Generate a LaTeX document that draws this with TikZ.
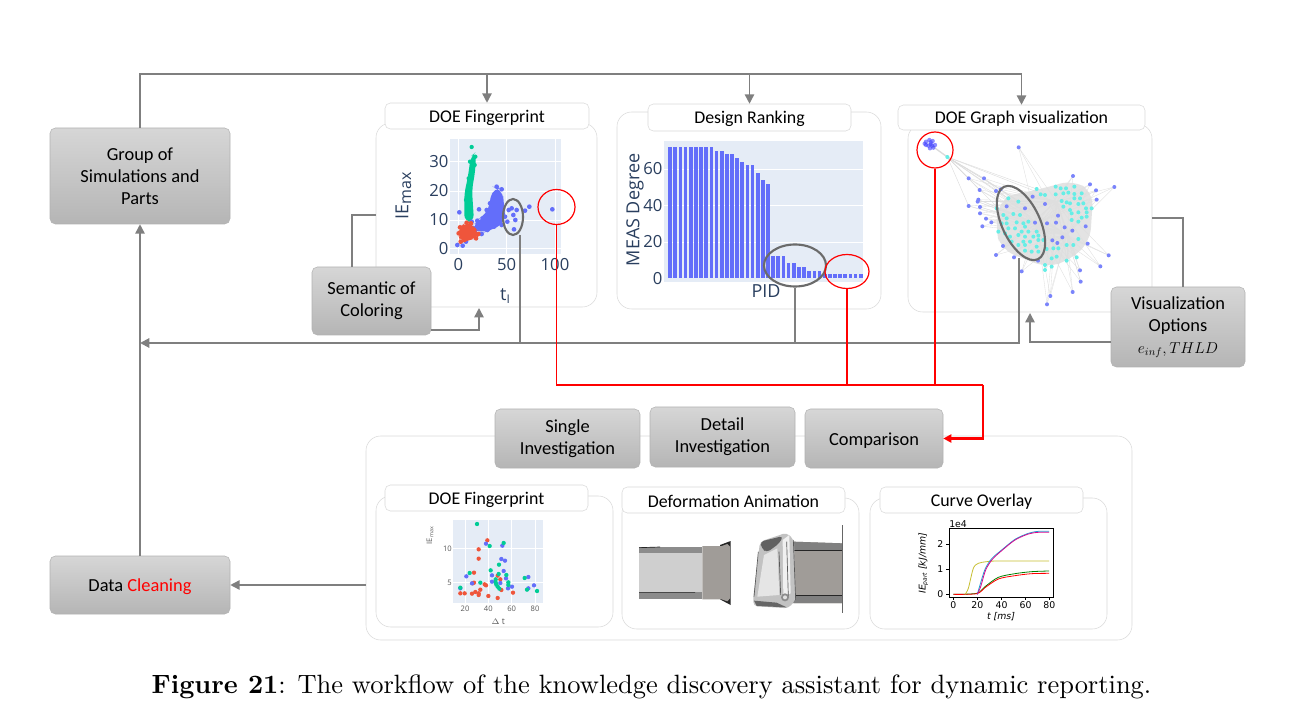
\documentclass[tikz,border=0pt]{standalone}
\usepackage{fontspec}
\usetikzlibrary{arrows.meta}
\usetikzlibrary{shapes.geometric}
\newfontfamily\boxfont{Carlito}
\newfontfamily\plotfont{Open Sans}
\newfontfamily\mplfont{DejaVu Sans}
\def\px{0.75pt}
\definecolor{plotbg}{HTML}{E5ECF6}
\definecolor{plotink}{HTML}{2A3F5F}
\definecolor{plotblue}{HTML}{636EFA}
\definecolor{plotred}{HTML}{EF553B}
\definecolor{plotgreen}{HTML}{00CC96}
\definecolor{graphcyan}{HTML}{66EEE6}
\definecolor{linegray}{HTML}{7F7F7F}
\definecolor{panelline}{HTML}{DADADA}
\tikzset{
  graybox/.style={draw=black!30, rounded corners=4pt, top color=black!16,
    bottom color=black!29, align=center, inner sep=0pt,
    font=\boxfont\fontsize{13.8}{16.5}\selectfont,
    execute at begin node={\rule{0pt}{12.5pt}}},
  grayboxtall/.style={graybox, execute at begin node={\rule{0pt}{15pt}}},
  panel/.style={draw=panelline, fill=white, rounded corners=11pt, inner sep=0pt},
  titlebox/.style={draw=panelline, fill=white, rounded corners=4pt, inner sep=0pt,
    font=\boxfont\fontsize{13.4}{15}\selectfont,
    execute at begin node={\rule{0pt}{11.5pt}}},
  grayline/.style={draw=linegray, line width=1.1pt},
  grayarrow/.style={grayline, -{Triangle[length=7pt,width=7pt]}},
  redline/.style={draw=red, line width=1.1pt},
  redarrow/.style={redline, line width=1.6pt, -{Triangle[length=6pt,width=6pt]}},
  grayring/.style={ellipse, draw=black!58, line width=1.6pt, inner sep=0pt},
  redring/.style={ellipse, draw=red, line width=0.9pt, inner sep=0pt},
  ticktext/.style={font=\plotfont\fontsize{12.5}{13}\selectfont, text=plotink, inner sep=0pt},
  axistext/.style={font=\plotfont\fontsize{13.5}{15}\selectfont, text=plotink, inner sep=0pt},
  smalltext/.style={font=\plotfont\fontsize{5.7}{6}\selectfont, text=black!65, inner sep=0pt},
  mpltext/.style={font=\mplfont\fontsize{7}{8}\selectfont, inner sep=0pt}
}

\begin{document}
\begin{tikzpicture}[x=\px, y=-\px]
  \useasboundingbox (0,0) rectangle (1292,723);

  %% The panels and their titles:
  \node[panel, minimum width=221*\px, minimum height=184*\px] (panelfp) at (486.5,215) {};
  \node[panel, minimum width=264*\px, minimum height=197*\px] (paneldesign) at (749,210.5) {};
  \node[panel, minimum width=244*\px, minimum height=188*\px] (panelgraph) at (1030,218) {};
  \node[panel, minimum width=766*\px, minimum height=204*\px] (panelbottom) at (749,538) {};
  \node[panel, minimum width=237*\px, minimum height=131*\px] (panelfpb) at (494.5,561.5) {};
  \node[panel, minimum width=237*\px, minimum height=131*\px] (panelanim) at (740.5,563.5) {};
  \node[panel, minimum width=237*\px, minimum height=131*\px] (panelcurve) at (988.5,563.5) {};
  \node[titlebox, minimum width=204*\px, minimum height=26*\px] (titlefp) at (487,116) {DOE Fingerprint};
  \node[titlebox, minimum width=203*\px, minimum height=27*\px] (titledesign) at (749.5,117.5) {Design Ranking};
  \node[titlebox, minimum width=247*\px, minimum height=25*\px] (titlegraph) at (1021.5,117.5) {DOE Graph visualization};
  \node[titlebox, minimum width=203*\px, minimum height=26*\px] (titlefpb) at (486.5,498) {DOE Fingerprint};
  \node[titlebox, minimum width=223*\px, minimum height=26*\px] (titleanim) at (733.5,500) {Deformation Animation};
  \node[titlebox, minimum width=203*\px, minimum height=26*\px] (titlecurve) at (981.5,500) {Curve Overlay};

  %% The fingerprint scatter:
  \begin{scope}[shift={(370,90)}, x=0.25pt, y=-0.25pt]
    \fill[plotbg] (240,148) rectangle (572,492);
    \foreach \gx in {265,410,555} \draw[white, line width=0.7pt] (\gx,148) -- (\gx,492);
    \foreach \gy in {215,303,390,475} \draw[white, line width=0.7pt] (240,\gy) -- (572,\gy);
    \fill[plotblue, rounded corners=8pt] (352,375) -- (368,290) -- (398,295) -- (402,350)
      -- (408,400) -- (350,425) -- (330,432) -- (300,415) -- (330,385) -- cycle;
    \fill[plotgreen, rounded corners=5pt] (302,200) -- (318,185) -- (316,240) -- (306,300)
      -- (312,395) -- (283,395) -- (283,310) -- (294,260) -- cycle;
    \foreach \dx/\dy in {305/171,300/215,296/265,288/330,293/350,316/200,314/225}
      \fill[plotgreen] (\dx,\dy) circle [radius=6.5];
    \foreach \dx/\dy in {425/355,416/360,440/360,430/375,436/390,432/418,478/350,465/362,
      547/358,327/358,268/367,262/465,278/467,288/455,305/395,338/385,345/405,335/432,
      380/290,395/298,360/340,350/360,322/392,312/415,405/380,412/395,372/410,395/405,
      352/420,300/440}
      \fill[plotblue] (\dx,\dy) circle [radius=7];
    \fill[plotred, rounded corners=6pt] (268,412) -- (290,395) -- (310,405) -- (328,430)
      -- (322,445) -- (288,452) -- (272,460) -- (264,432) -- cycle;
    \foreach \dx/\dy in {270/412,290/398,303/400,325/432,318/445,272/455,283/450,266/430}
      \fill[plotred] (\dx,\dy) circle [radius=7];
    \foreach \tx/\tl in {265/0,410/50,555/100} \node[ticktext] (fptick\tl) at (\tx,525) {\tl};
    \foreach \ty/\tl in {475/0,390/10,303/20,215/30} \node[ticktext, anchor=east] (fplab\tl) at (236,\ty) {\tl};
    \node[axistext, rotate=90] (fpylabel) at (100,318) {IE\raisebox{-2pt}{\fontsize{12}{12}\selectfont max}};
    \node[axistext] (fpxlabel) at (405,618) {t\raisebox{-2pt}{\fontsize{9}{9}\selectfont I}};
  \end{scope}

  %% The ranking bars:
  \begin{scope}[shift={(610,95)}, x=0.25pt, y=-0.25pt]
    \fill[plotbg] (162,138) rectangle (760,560);
    \foreach \gy in {222,331,441} \draw[white, line width=0.5pt] (162,\gy) -- (760,\gy);
    \foreach \barv [count=\barn from 0] in {72,72,72,72,72,72,72,72,72,70,70,68,68,66,64,62,62,58,54,52,
      12,12,12,8,8,6,6,4,4,4,2,2,2,2,2,2,2,2}
      \fill[plotblue] (175+\barn*15.45,549) rectangle (186+\barn*15.45,549-\barv*5.45);
    \foreach \ty/\tl in {550/0,441/20,331/40,222/60} \node[ticktext, anchor=east] (barlab\tl) at (158,\ty) {\tl};
    \node[axistext] (barxlabel) at (468,588) {PID};
    \node[axistext, rotate=90] (barylabel) at (75,345) {MEAS Degree};
  \end{scope}

  %% The graph of the simulations:
  \begin{scope}[shift={(890,95)}, x=0.25pt, y=-0.25pt]
    \fill[black!11, rounded corners=10pt] (335,305) -- (440,285) -- (550,255) -- (610,292)
      -- (600,440) -- (540,495) -- (470,518) -- (335,465) -- (315,400) -- cycle;
    \foreach \ex/\ey in {386/157,549/243,600/268,673/276,618/286,620/314,236/250,282/250,
      269/285,318/288,332/283,265/314,263/320,236/333,270/336,270/355,288/371,304/382,
      277/394,339/453,318/480,372/487,395/529,570/526,572/560,548/591,481/603,471/628,
      631/514,656/481,444/497,465/525,485/515,530/497,560/487}
      {
      \draw[black!13, line width=0.25pt] (\ex,\ey) -- (440,385);
      \draw[black!13, line width=0.25pt] (\ex,\ey) -- (530,420);
      \draw[black!13, line width=0.25pt] (\ex,\ey) -- (500,320);
      }
    \foreach \ex/\ey in {236/250,282/250,269/285,318/288,332/283,355/310,440/282,465/300,236/333,390/320,330/345}
      \draw[black!14, line width=0.3pt] (172,186) -- (\ex,\ey);
    \draw[black!14, line width=1pt] (122,150) -- (172,186);
    \foreach \dx/\dy in {172/186,440/282,497/275,512/280,528/280,553/275,452/298,465/300,
      497/298,520/295,535/293,553/297,575/295,355/310,385/320,515/318,530/322,553/310,
      570/310,520/335,540/325,565/327,580/325,605/340,588/340,540/345,545/355,565/352,
      590/352,320/340,340/360,370/357,390/360,350/370,575/368,590/365,545/375,565/380,
      335/385,350/385,380/382,400/385,415/380,355/400,375/400,405/395,325/410,345/415,
      395/410,415/410,440/410,360/425,385/420,405/425,430/425,445/422,365/440,400/440,
      420/440,445/435,460/435,385/450,405/450,440/455,470/462,490/460,505/460,530/450,
      550/450,565/432,405/467,425/470,445/470,485/490,500/485,530/497,560/487,465/510,
      485/515,465/525}
      \fill[graphcyan] (\dx,\dy) circle [radius=6];
    \foreach \dx/\dy in {386/157,549/243,600/268,673/276,618/286,620/314,236/250,282/250,
      269/285,318/288,332/283,265/314,263/320,236/333,270/336,270/355,288/371,304/382,
      277/394,350/334,405/340,428/305,465/327,504/362,435/383,471/385,498/383,524/397,
      547/407,517/427,487/436,502/444,593/446,587/394,339/453,318/480,372/487,395/529,
      570/526,572/560,548/591,481/603,471/628,631/514,656/481,444/497}
      \fill[plotblue!85] (\dx,\dy) circle [radius=6];
    \foreach \dx/\dy in {108/140,118/135,128/138,135/150,130/158,120/160,108/150,122/148,
      115/152,126/152,104/146,122/142}
      \fill[blue!75, opacity=0.6] (\dx,\dy) circle [radius=6.5];
  \end{scope}

  %% The small scatter:
  \begin{scope}[shift={(370,480)}, x=0.25pt, y=-0.25pt]
    \fill[plotbg] (250,120) rectangle (518,368);
    \foreach \gx in {285,355,425,495} \draw[white, line width=0.5pt] (\gx,120) -- (\gx,368);
    \foreach \gy in {205,307} \draw[white, line width=0.5pt] (250,\gy) -- (518,\gy);
    \foreach \dx/\dy in {271/340,284/340,306/341,316/336,326/345,331/329,348/316,344/313,
      355/348,383/354,394/330,429/338,326/340,352/181,326/208,326/236,312/278,312/308,
      308/310,383/287,391/298}
      \fill[plotred] (\dx,\dy) circle [radius=6.5];
    \foreach \dx/\dy in {271/325,289/289,306/310,348/191,397/197,394/237,405/242,366/286,
      366/305,401/273,408/295,391/309,414/325,426/320,492/316,475/291,475/325}
      \fill[plotblue] (\dx,\dy) circle [radius=6.5];
    \foreach \dx/\dy in {321/132,359/198,401/189,387/254,362/271,386/282,299/279,271/323,
      331/308,377/298,377/307,379/314,383/320,388/326,409/285,415/307,415/315,464/294,
      471/329,501/333}
      \fill[plotgreen] (\dx,\dy) circle [radius=6.5];
    \foreach \tx/\tl in {285/20,355/40,425/60,495/80} \node[smalltext] (fpbtick\tl) at (\tx,385) {\tl};
    \node[smalltext, anchor=east] (fpblab10) at (246,205) {10};
    \node[smalltext, anchor=east] (fpblab5) at (246,307) {5};
    \node[smalltext, rotate=90] (fpbylabel) at (180,167) {IE\raisebox{-1pt}{\fontsize{4}{4}\selectfont max}};
    \node[smalltext, font=\plotfont\fontsize{6.5}{7}\selectfont] (fpbxlabel) at (385,425) {$\Delta$ t};
  \end{scope}

  %% The deformed tubes:
  \begin{scope}[shift={(620,480)}, x=0.25pt, y=-0.25pt]
    \fill[black!45] (57,200) rectangle (247,357);
    \fill[black!19] (57,218) rectangle (247,337);
    \fill[black!85] (300,195) -- (332,183) -- (332,375) -- (300,358) -- cycle;
    \fill[brown!15!black!42] (247,198) -- (305,198) -- (322,192) -- (330,200) -- (330,355)
      -- (322,364) -- (305,358) -- (247,358) -- cycle;
    \draw[black!85, line width=0.5pt] (57,203) -- (120,201) (57,337) -- (225,337);
    \fill[brown!15!black!42] (520,185) -- (667,190) -- (667,370) -- (520,370) -- cycle;
    \fill[black!50] (520,185) -- (667,190) -- (667,212) -- (520,212) -- cycle;
    \fill[black!50] (520,347) -- (667,347) -- (667,370) -- (520,370) -- cycle;
    \draw[black!85, line width=0.5pt] (520,212) -- (667,212) (520,347) -- (667,347);
    \fill[black!24, rounded corners=3pt] (420,185) -- (500,158) -- (522,180) -- (527,360)
      -- (505,385) -- (400,378) -- (400,350) -- cycle;
    \fill[black!62, rounded corners=3pt] (420,185) -- (490,168) -- (478,190) -- (440,218) -- (425,205) -- cycle;
    \fill[black!10] (432,225) -- (472,205) -- (478,345) -- (412,350) -- cycle;
    \fill[black!60] (402,362) -- (470,368) -- (500,382) -- (410,378) -- cycle;
    \fill[black!6] (488,180) -- (508,165) -- (512,340) -- (490,350) -- cycle;
    \draw[black!65, line width=0.5pt] (477,215) -- (482,345) (500,185) -- (505,350) (520,180) -- (527,360)
      (415,215) -- (402,350);
    \fill[black!45] (495,352) circle [radius=12];
    \fill[black!12] (495,352) circle [radius=6];
    \draw[black!60, line width=0.5pt] (667,135) -- (667,400);
  \end{scope}

  %% The curve overlay:
  \begin{scope}[shift={(865,480)}, x=0.25pt, y=-0.25pt]
    \draw[black, line width=0.6pt] (252,146) rectangle (565,352);
    \foreach \tx/\tl in {265/0,337/20,410/40,482/60,553/80} {
      \draw[black, line width=0.4pt] (\tx,352) -- (\tx,360);
      \node[mpltext] (curvetick\tl) at (\tx,376) {\tl};
    }
    \foreach \ty/\tl in {343/0,268/1,193/2} {
      \draw[black, line width=0.4pt] (252,\ty) -- (244,\ty);
      \node[mpltext, anchor=east] (curvelab\tl) at (236,\ty) {\tl};
    }
    \node[mpltext, anchor=west] (curvescale) at (252,131) {1e4};
    \node[mpltext, rotate=90] (curveylabel) at (175,250) {\itshape IE\raisebox{-1pt}{\fontsize{4.5}{5}\selectfont part} [kJ/mm]};
    \node[mpltext] (curvexlabel) at (408,409) {\itshape t [ms]};
    \draw[green!50!black, line width=0.6pt] plot[smooth] coordinates {(265,343) (335,340) (360,320) (400,292) (450,281) (500,275) (552,273)};
    \draw[red, line width=0.6pt] plot[smooth] coordinates {(265,343) (335,341) (360,323) (400,297) (450,287) (500,281) (552,280)};
    \draw[yellow!75!black, line width=0.6pt] plot[smooth] coordinates {(300,343) (310,325) (325,265) (340,250) (365,245) (400,243) (552,243)};
    \draw[cyan!85!black, line width=0.6pt] plot[smooth] coordinates {(337,343) (345,315) (360,268) (380,236) (410,210) (450,178) (490,160) (520,154) (552,154)};
    \draw[magenta!90!blue, line width=0.6pt] plot[smooth] coordinates {(337,343) (347,320) (362,270) (382,238) (410,212) (450,180) (490,162) (520,157) (552,157)};
  \end{scope}

  %% The rings:
  \node[grayring, minimum width=20*\px, minimum height=36*\px] (ringfp) at (513,217) {};
  \node[grayring, minimum width=62*\px, minimum height=42*\px] (ringdesign) at (795,265.5) {};
  \node[grayring, rotate=25, minimum width=38*\px, minimum height=80*\px] (ringgraph) at (1021,223) {};
  \node[redring, minimum width=37*\px, minimum height=35*\px] (redfp) at (556.5,207) {};
  \node[redring, minimum width=44*\px, minimum height=34*\px] (reddesign) at (847,271.5) {};
  \node[redring, minimum width=36*\px, minimum height=36*\px] (redgraph) at (935,150) {};

  %% The boxes:
  \node[grayboxtall, minimum width=180*\px, minimum height=96*\px] (group) at (140,176) {Group of\\Simulations and\\Parts};
  \node[grayboxtall, minimum width=119*\px, minimum height=68*\px] (semantic) at (371.5,301) {Semantic of\\Coloring};
  \node[grayboxtall, minimum width=134*\px, minimum height=80*\px] (visopt) at (1178,327) {Visualization\\Options\\\scalebox{0.82}{$e_{inf},THLD$}};
  \node[grayboxtall, minimum width=145*\px, minimum height=59*\px] (single) at (567.5,438.5) {Single\\Investigation};
  \node[grayboxtall, minimum width=145*\px, minimum height=60*\px] (detail) at (722.5,437) {Detail\\Investigation};
  \node[graybox, minimum width=138*\px, minimum height=59*\px] (comparison) at (874,438.5) {Comparison};
  \node[graybox, minimum width=180*\px, minimum height=58*\px] (cleaning) at (140,585) {Data {\color{red}Cleaning}};

  %% The connections:
  \coordinate (topleft) at (140,74);
  \coordinate (graphfoot) at (1019,258);
  \coordinate (fpfoot) at (520,235);
  \coordinate (leftbus) at (140,343);
  \coordinate (redcorner) at (983,385);
  \draw[grayarrow] (group.north) -- (topleft) -| (titlegraph.north);
  \draw[grayarrow] (topleft -| titlefp.north) -- (titlefp.north);
  \draw[grayarrow] (topleft -| titledesign.north) -- (titledesign.north);
  \draw[grayarrow] (cleaning.north) -- (group.south);
  \draw[grayarrow, line width=1.5pt] (graphfoot) |- (leftbus);
  \draw[grayline] (ringdesign.south) -- (ringdesign.south |- leftbus);
  \draw[grayline] (fpfoot) -- (fpfoot |- leftbus);
  \coordinate (semtop) at (352,267);
  \coordinate (semout) at (431,330);
  \coordinate (visout) at (1111,342);
  \coordinate (vistop) at (1183,287);
  \draw[grayline] (semtop) |- (panelfp.west);
  \draw[grayarrow] (semout) -| (479,308);
  \draw[grayarrow] (visout) -| (1030,313);
  \draw[grayline] (vistop) |- (panelgraph.east);
  \draw[grayarrow] (panelbottom.west |- cleaning.east) -- (cleaning.east);
  \draw[redline] (redfp.south) |- (redcorner);
  \draw[redline] (reddesign.south) -- (reddesign.south |- redcorner);
  \draw[redline] (redgraph.south) -- (redgraph.south |- redcorner);
  \draw[redarrow] (redcorner) |- (comparison.east);

  %% The caption:
  \node[inner sep=0pt, scale=1.985] (caption) at (651.5,686.5)
    {\textbf{Figure 21}: The workflow of the knowledge discovery assistant for dynamic reporting.};

\end{tikzpicture}
\end{document}
